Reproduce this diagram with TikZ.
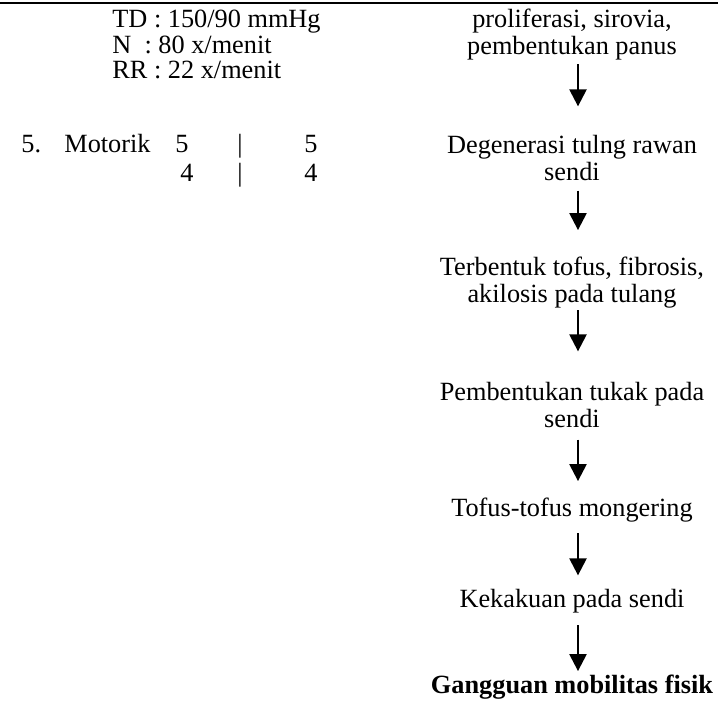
\documentclass[tikz,border=0pt]{standalone}
\usepackage{fontspec}
\setmainfont{Liberation Serif}
\usetikzlibrary{arrows.meta}
\tikzstyle{flowText} = [anchor=base, align=center, inner sep=0pt]
\tikzstyle{vitalText} = [anchor=base west, align=left, inner sep=0pt]
\tikzstyle{scoreText} = [anchor=base, align=center, inner sep=0pt, font=\fontsize{13.15pt}{14.5pt}\selectfont]
\tikzstyle{arrow} = [line width=1.2pt,->,>={Triangle[width=8.5pt,length=8.5pt]}]

\begin{document}
\begin{tikzpicture}[x=0.5pt, y=-0.5pt, font=\fontsize{13.15pt}{13.5pt}\selectfont]
\useasboundingbox (0,0) rectangle (718,706);

% Top rule of the table
\draw [line width=1.4pt] (0,3) -- (718,3);

% Column 1 - Vital signs and motor score (base = last line)
\node (vitals) [vitalText, font=\fontsize{13.15pt}{12.75pt}\selectfont] at (112,79) {TD : 150/90 mmHg\\N\ \ : 80 x/menit\\RR : 22 x/menit};
\node (motorNo) [vitalText] at (21,153) {5.};
\node (motorLabel) [vitalText] at (64,153) {Motorik};
\node (motorLeft) [scoreText, align=left, anchor=base west] at (175,182) {5\\\hspace{2.5pt}4};
\node (motorBar) [scoreText] at (240,182) {|\\|};
\node (motorRight) [scoreText] at (311,182) {5\\4};

% Column 2 - Pathway (base = last line)
\node (prolif) [flowText] at (572,55) {proliferasi, sirovia,\\pembentukan panus};
\node (degen) [flowText] at (572,181) {Degenerasi tulng rawan\\sendi};
\node (tofusForm) [flowText] at (572,302) {Terbentuk tofus, fibrosis,\\akilosis pada tulang};
\node (ulcer) [flowText] at (572,427) {Pembentukan tukak pada\\sendi};
\node (tofusDry) [flowText] at (572,516) {Tofus-tofus mongering};
\node (stiff) [flowText] at (572,607) {Kekakuan pada sendi};
\node (mobility) [flowText] at (572,693) {\textbf{Gangguan mobilitas fisik}};

% Column 2 - Arrows
\draw [arrow, shorten <=1.6pt, shorten >=14.5pt] ([xshift=3pt]prolif.south) -- ([xshift=3pt]degen.north);
\draw [arrow, shorten <=4.5pt, shorten >=13pt] ([xshift=3pt]degen.south) -- ([xshift=3pt]tofusForm.north);
\draw [arrow, shorten <=1.2pt, shorten >=15pt] ([xshift=3pt]tofusForm.south) -- ([xshift=3pt]ulcer.north);
\draw [arrow, shorten <=6pt, shorten >=8pt] ([xshift=3pt]ulcer.south) -- ([xshift=3pt]tofusDry.north);
\draw [arrow, shorten <=5.5pt, shorten >=6.5pt] ([xshift=3pt]tofusDry.south) -- ([xshift=3pt]stiff.north);
\draw [arrow, shorten <=6pt, shorten >=1.5pt] ([xshift=3pt]stiff.south) -- ([xshift=3pt]mobility.north);

\end{tikzpicture}
\end{document}
